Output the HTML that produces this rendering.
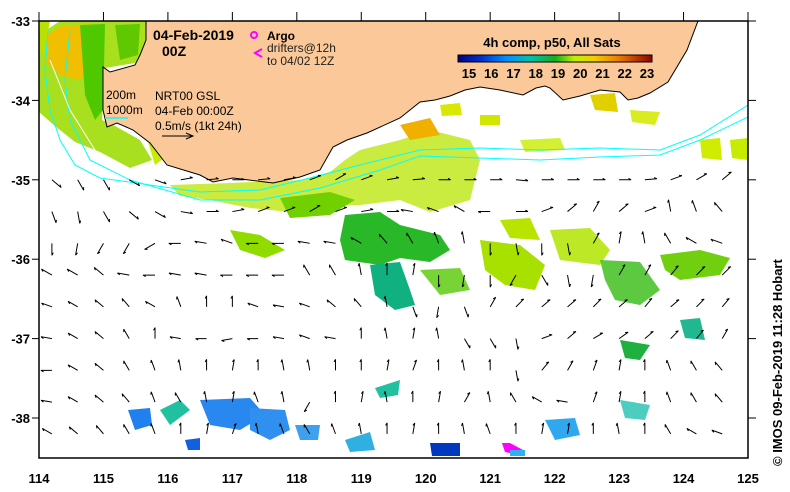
<!DOCTYPE html>
<html><head><meta charset="utf-8"><style>
body{margin:0;background:#fff;}
svg{display:block;font-family:"Liberation Sans",sans-serif;}
</style></head><body>
<svg id="chart" width="790" height="492" viewBox="0 0 790 492">
<defs>
<linearGradient id="cb" x1="0" x2="1" y1="0" y2="0">
<stop offset="0" stop-color="#000080"/><stop offset="0.12" stop-color="#0030d0"/><stop offset="0.25" stop-color="#0090ff"/><stop offset="0.37" stop-color="#00c0b0"/><stop offset="0.5" stop-color="#10b020"/><stop offset="0.6" stop-color="#c0f000"/><stop offset="0.7" stop-color="#f0d000"/><stop offset="0.82" stop-color="#f08000"/><stop offset="1" stop-color="#900000"/>
</linearGradient>
<clipPath id="plotclip"><rect x="39" y="21" width="709" height="437"/></clipPath>
</defs>
<rect x="0" y="0" width="790" height="492" fill="#fff"/>
<g clip-path="url(#plotclip)">
<g id="sst">
<path d="M39,35 L60,21 L146,21 L146,45 L135,63 L105,68 L102,120 L115,126 L140,140 L152,160 L130,168 L100,152 L75,142 L55,126 L39,112Z" fill="#a8e020"/>
<path d="M45,35 L62,26 L90,24 L92,60 L80,80 L60,75 L45,60Z" fill="#f0c000"/>
<path d="M80,25 L105,24 L103,110 L95,120 L85,95Z" fill="#50c800"/>
<path d="M115,25 L140,24 L138,55 L120,60Z" fill="#60c800"/>
<path d="M145,132 L175,150 L155,165Z" fill="#c8ec00"/>
<path d="M170,185 L230,183 L300,180 L330,172 L345,160 L360,150 L400,140 L430,130 L470,140 L480,160 L470,200 L430,212 L400,200 L360,205 L330,205 L290,212 L250,208 L210,200 L180,196Z" fill="#b8e400" opacity="0.75"/>
<path d="M280,198 L330,192 L355,200 L330,215 L290,218Z" fill="#70d000"/>
<path d="M230,230 L260,235 L285,250 L265,258 L240,250Z" fill="#90dc00"/>
<path d="M345,215 L380,212 L400,225 L440,235 L450,250 L430,262 L400,258 L380,265 L345,260 L340,240Z" fill="#28b828"/>
<path d="M370,265 L400,262 L410,290 L415,305 L395,310 L375,295Z" fill="#10b080"/>
<path d="M480,240 L520,245 L545,265 L535,290 L505,285 L485,270Z" fill="#a8e000"/>
<path d="M550,230 L590,228 L610,250 L600,265 L560,260Z" fill="#b0e400" opacity="0.85"/>
<path d="M660,255 L700,250 L730,258 L720,275 L680,280 L665,270Z" fill="#70d010"/>
<path d="M600,260 L640,262 L660,290 L640,305 L615,300 L605,280Z" fill="#40c020" opacity="0.85"/>
<path d="M500,220 L530,218 L540,240 L510,238Z" fill="#b8e400"/>
<path d="M420,270 L460,268 L470,290 L440,295Z" fill="#60cc10" opacity="0.85"/>
<path d="M680,320 L700,318 L705,340 L685,338Z" fill="#20b890"/>
<path d="M620,340 L650,345 L640,360 L625,358Z" fill="#20b040"/>
<path d="M440,105 L460,103 L462,115 L442,116Z" fill="#d8e800"/>
<path d="M590,95 L615,93 L618,112 L595,110Z" fill="#e0d000"/>
<path d="M630,110 L660,112 L655,125 L632,122Z" fill="#d8ec20"/>
<path d="M520,140 L560,138 L565,150 L525,152Z" fill="#c8ec00" opacity="0.8"/>
<path d="M700,140 L720,138 L722,160 L702,158Z" fill="#d0ec00"/>
<path d="M730,140 L748,138 L748,160 L732,158Z" fill="#c8ec00"/>
<path d="M480,115 L500,115 L500,125 L480,125Z" fill="#d0e800"/>
<path d="M400,125 L430,118 L440,135 L410,140Z" fill="#f0b000"/>
<path d="M128,410 L150,408 L152,425 L135,430Z" fill="#2080f0"/>
<path d="M160,410 L180,400 L190,410 L170,425Z" fill="#20c0a0"/>
<path d="M200,400 L250,398 L265,415 L240,430 L210,425Z" fill="#2888f0"/>
<path d="M250,408 L285,410 L290,430 L270,440 L250,430Z" fill="#3090f0"/>
<path d="M185,440 L200,438 L200,450 L188,450Z" fill="#1060e0"/>
<path d="M295,425 L320,425 L318,440 L300,440Z" fill="#40a0f0"/>
<path d="M345,440 L370,432 L375,450 L350,452Z" fill="#30b0e0"/>
<path d="M375,388 L400,380 L398,395 L380,398Z" fill="#20c0a0"/>
<path d="M430,443 L460,443 L460,456 L432,456Z" fill="#0038c0"/>
<path d="M502,443 L510,443 L523,450 L520,455 L505,452Z" fill="#ff00ff"/>
<path d="M510,450 L525,450 L525,456 L510,456Z" fill="#30b0f0"/>
<path d="M545,420 L575,418 L580,435 L555,440Z" fill="#30a8f0"/>
<path d="M620,400 L650,405 L645,420 L625,418Z" fill="#20c0b0" opacity="0.8"/>
<path d="M40,20 L50,20 L45,50 L39,55Z" fill="#b8e000"/>
</g>
<path d="M146,21 L146,40 L140,55 L135,65 L110,72 L103,67 L103,110 L107,127 L117,123 L133,130 L150,143 L167,165 L200,175 L213,182 L233,178 L273,183 L300,177 L320,170 L333,147 L347,140 L367,133 L400,118 L420,102 L435,100 L450,96 L465,90 L480,87 L500,90 L523,95 L536,88 L545,86 L550,88 L563,100 L580,96 L600,90 L620,92 L628,100 L638,98 L650,93 L668,82 L687,50 L698,21Z" fill="#fbc999" stroke="#000" stroke-width="1"/>
<g fill="none" stroke="#00ffff" stroke-width="1">
<path d="M48,30 L45,70 L50,110 L60,140 L75,165 L100,178 L150,185 L200,192 L260,190 L310,178 L360,165 L420,150 L480,148 L540,150 L600,148 L660,150 L700,135 L748,105"/>
<path d="M70,30 L65,80 L70,120 L90,160 L130,180 L200,200 L260,200 L320,188 L380,170 L420,156 L480,158 L540,160 L600,157 L660,155 L700,140 L748,117"/>
</g>
<path d="M50,60 L70,110 L95,150" fill="none" stroke="#fff" stroke-width="1"/>
<g id="arrows"></g>
</g>
<rect x="39" y="21" width="709" height="437" fill="none" stroke="#000" stroke-width="1.5"/>
<g id="axes" font-size="13" font-weight="bold"></g>
<g font-weight="bold" font-size="14">
<text x="153" y="40">04-Feb-2019</text>
<text x="162" y="56">00Z</text>
</g>
<g font-size="12">
<circle cx="254" cy="35" r="3" fill="none" stroke="#ff00ff" stroke-width="2"/>
<text x="267" y="40" font-weight="bold">Argo</text>
<path d="M262,49 L255,53 L262,57" fill="none" stroke="#ff00ff" stroke-width="2"/>
<text x="267" y="52" fill="#222">drifters@12h</text>
<text x="267" y="65" fill="#222">to 04/02 12Z</text>
<text x="106" y="99">200m</text>
<text x="106" y="114">1000m</text>
<line x1="105" y1="118" x2="128" y2="118" stroke="#00ffff" stroke-width="1.5"/>
<text x="155" y="100">NRT00 GSL</text>
<text x="155" y="115">04-Feb 00:00Z</text>
<text x="155" y="130">0.5m/s (1kt 24h)</text>
<line x1="162" y1="136" x2="192" y2="136" stroke="#000" stroke-width="1"/>
<path d="M186,133 L193,136 L186,139" fill="none" stroke="#000"/>
</g>
<g>
<text x="552" y="47" font-size="13" font-weight="bold" text-anchor="middle">4h comp, p50, All Sats</text>
<rect x="458" y="55" width="194" height="7" fill="url(#cb)" stroke="#000" stroke-width="1"/>
<g id="cbticks" font-size="13" font-weight="bold"></g>
</g>
<text transform="translate(782,466) rotate(-90)" font-size="13" font-weight="bold">©  IMOS 09-Feb-2019 11:28 Hobart</text>
<script>
const lonTicks=[114,115,116,117,118,119,120,121,122,123,124,125];
const latTicks=[-33,-34,-35,-36,-37,-38];
const cbLabels=[15,16,17,18,19,20,21,22,23];
const arrowLats=[-35.0,-35.4,-35.8,-36.2,-36.6,-37.0,-37.4,-37.8,-38.2];
const arrowLons=[114.2,114.6,115.0,115.4,115.8,116.2,116.6,117.0,117.4,117.8,118.2,118.6,119.0,119.4,119.8,120.2,120.6,121.0,121.4,121.8,122.2,122.6,123.0,123.4,123.8,124.2,124.6];
const ang0=[-40,-60,-60,-30,-20,10,5,0,5,10,20,30,20,10,5,0,0,0,-5,0,0,0,0,5,20,30,40];
const ang1=[-70,-80,-60,-40,-30,-10,0,10,20,20,30,20,10,0,170,160,150,180,0,20,40,60,40,20,100,110,130];
const ang2=[-90,-100,-120,-120,-150,180,170,160,180,180,170,170,150,130,120,110,100,-90,-80,-90,-80,60,80,100,120,150,160];
const ang3=[150,150,140,170,180,170,170,180,180,180,120,120,100,90,80,-90,-100,-90,-120,-60,-80,-100,60,60,50,45,45];
const ang4=[160,150,140,130,150,110,90,90,160,170,160,140,130,100,-70,-100,-70,60,45,40,40,45,40,50,40,45,50];
const ang5=[170,150,140,120,90,170,180,-170,180,170,160,170,90,100,80,100,-60,-60,-80,20,40,30,35,40,45,50,60];
const ang6=[180,150,140,120,110,100,90,80,90,100,100,90,90,80,70,90,100,90,-80,50,60,70,80,90,110,120,130];
const ang7=[170,150,140,130,110,120,100,80,110,100,-120,90,80,100,90,80,60,100,120,150,170,70,80,90,110,120,130];
const ang8=[150,140,130,120,110,90,80,70,100,110,120,110,100,90,80,90,100,110,90,80,80,90,100,90,120,150,160];
const speeds=[12,12,12,12,11,11,11,11,11];
const angleRows=[ang0,ang1,ang2,ang3,ang4,ang5,ang6,ang7,ang8];
const X=lon=>39+(lon-114)*(709/11);
const Y=lat=>21+(-33-lat)*(397/5);
const NS='http://www.w3.org/2000/svg';
const axes=document.getElementById('axes');
lonTicks.forEach(v=>{
  const t=document.createElementNS(NS,'line');
  t.setAttribute('x1',X(v));t.setAttribute('x2',X(v));t.setAttribute('y1',12);t.setAttribute('y2',21);t.setAttribute('stroke','#000');
  axes.appendChild(t);
  const l=document.createElementNS(NS,'text');
  
  
  l.setAttribute('x',X(v));l.setAttribute('y',483);l.setAttribute('text-anchor','middle');l.textContent=v;
  axes.appendChild(l);
});
latTicks.forEach(v=>{
  const t=document.createElementNS(NS,'line');
  t.setAttribute('x1',748);t.setAttribute('x2',756);t.setAttribute('y1',Y(v));t.setAttribute('y2',Y(v));t.setAttribute('stroke','#000');
  axes.appendChild(t);
  const t2=document.createElementNS(NS,'line');
  t2.setAttribute('x1',32);t2.setAttribute('x2',39);t2.setAttribute('y1',Y(v));t2.setAttribute('y2',Y(v));t2.setAttribute('stroke','#000');
  axes.appendChild(t2);
  const l=document.createElementNS(NS,'text');
  
  
  l.setAttribute('x',30);l.setAttribute('y',Y(v)+5);l.setAttribute('text-anchor','end');l.textContent=v;
  axes.appendChild(l);
});
const cbt=document.getElementById('cbticks');
cbLabels.forEach(v=>{
  const x=469+(v-15)*(178/8);
  const l=document.createElementNS(NS,'text');
  
  
  l.setAttribute('x',x);l.setAttribute('y',78);l.setAttribute('text-anchor','middle');l.textContent=v;
  cbt.appendChild(l);
});
const ag=document.getElementById('arrows');
arrowLats.forEach((lat,i)=>{
  arrowLons.forEach((lon,j)=>{
    const a=angleRows[i][j]*Math.PI/180, L=speeds[i];
    const x0=X(lon),y0=Y(lat),x1=x0+L*Math.cos(a),y1=y0-L*Math.sin(a);
    const p=document.createElementNS(NS,'path');
    
    
    const hx1=x1-3*Math.cos(a-0.5),hy1=y1+3*Math.sin(a-0.5);
    p.setAttribute('d',`M${x0},${y0}L${x1},${y1}L${hx1},${hy1}`);
    p.setAttribute('stroke','#000');p.setAttribute('fill','none');p.setAttribute('stroke-width','1');
    ag.appendChild(p);
  });
});
</script>
</svg>
</body></html>
